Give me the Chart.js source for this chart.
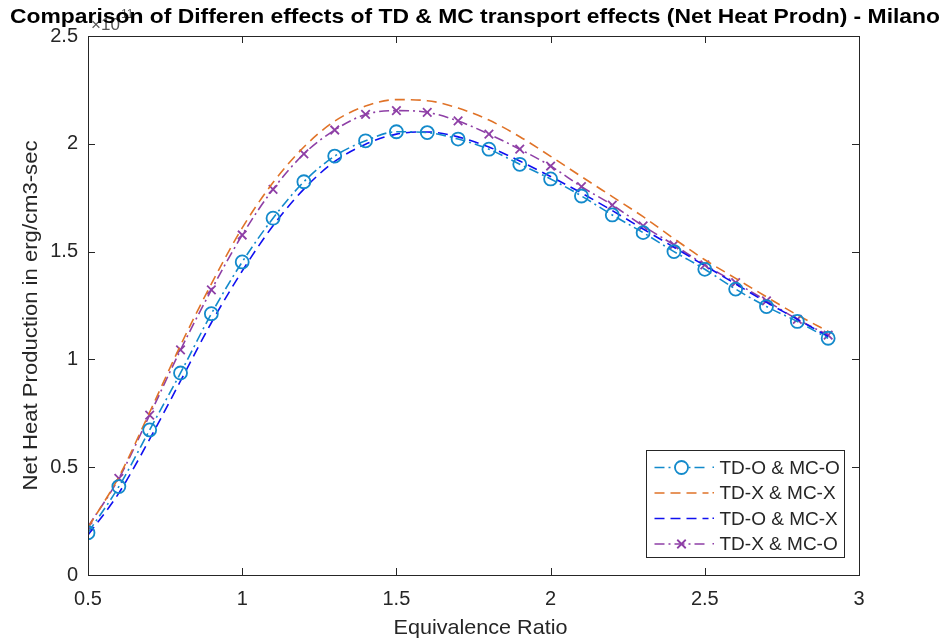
<!DOCTYPE html>
<html>
<head>
<meta charset="utf-8">
<script src="https://cdn.jsdelivr.net/npm/chart.js@4/dist/chart.umd.min.js"></script>
<style>
  html, body { margin: 0; padding: 0; background: #fff; }
  #wrap { width: 946px; height: 642px; }
</style>
</head>
<body>
<div id="wrap"><canvas id="heatChart" width="946" height="642"></canvas></div>
<script>
// equivalence ratio (x) and net heat production (units of 1e11 erg/cm3-sec)
const phi = [0.5, 0.6, 0.7, 0.8, 0.9, 1.0, 1.1, 1.2, 1.3, 1.4, 1.5, 1.6, 1.7,
             1.8, 1.9, 2.0, 2.1, 2.2, 2.3, 2.4, 2.5, 2.6, 2.7, 2.8, 2.9];

const tdO_mcO = [0.196, 0.41, 0.673, 0.937, 1.212, 1.452, 1.655, 1.824, 1.943, 2.014, 2.056, 2.052, 2.022,
                 1.975, 1.905, 1.837, 1.758, 1.67, 1.588, 1.5, 1.418, 1.326, 1.245, 1.176, 1.098];
const tdX_mcX = [0.22, 0.455, 0.755, 1.065, 1.35, 1.61, 1.82, 1.985, 2.105, 2.175, 2.205, 2.2, 2.166,
                 2.11, 2.033, 1.942, 1.848, 1.755, 1.662, 1.56, 1.462, 1.376, 1.29, 1.206, 1.13];
const tdO_mcX = [0.185, 0.38, 0.63, 0.9, 1.17, 1.41, 1.62, 1.79, 1.918, 1.998, 2.045, 2.055, 2.032,
                 1.985, 1.92, 1.848, 1.772, 1.69, 1.605, 1.52, 1.435, 1.35, 1.265, 1.186, 1.106];
const tdX_mcO = [0.224, 0.448, 0.742, 1.044, 1.322, 1.577, 1.789, 1.953, 2.064, 2.136, 2.154, 2.146, 2.106,
                 2.045, 1.975, 1.897, 1.801, 1.716, 1.619, 1.531, 1.438, 1.356, 1.272, 1.186, 1.113];

const seriesNames = ['TD-O & MC-O', 'TD-X & MC-X', 'TD-O & MC-X', 'TD-X & MC-O'];
const xTicks = [0.5, 1, 1.5, 2, 2.5, 3];
const yTicks = [0, 0.5, 1, 1.5, 2, 2.5];

const titleText = 'Comparison of Differen effects of TD & MC transport effects (Net Heat Prodn) - Milano';
const xLabel = 'Equivalence Ratio';
const yLabel = 'Net Heat Production in erg/cm3-sec';

const INK = '#262626';
const FONT = '"Liberation Sans", Arial, sans-serif';

const pts = (ys) => phi.map((x, i) => ({ x, y: ys[i] }));

const DASH = [10, 6];
const DASHDOT = [10, 4, 2, 4];

const datasets = [
  { label: seriesNames[0], data: pts(tdO_mcO), borderColor: '#138ACB', borderDash: DASHDOT,
    pointStyle: 'circle', pointRadius: 6.5, pointBorderWidth: 1.8, pointBackgroundColor: 'rgba(0,0,0,0)' },
  { label: seriesNames[1], data: pts(tdX_mcX), borderColor: '#E07328', borderDash: DASH, pointRadius: 0 },
  { label: seriesNames[2], data: pts(tdO_mcX), borderColor: '#1010F0', borderDash: DASH, pointRadius: 0 },
  { label: seriesNames[3], data: pts(tdX_mcO), borderColor: '#8E3FA6', borderDash: DASHDOT,
    pointStyle: 'crossRot', pointRadius: 6, pointBorderWidth: 1.8 }
].map(d => Object.assign({ borderWidth: 1.6, tension: 0.4, cubicInterpolationMode: 'monotone',
                           fill: false, pointHoverRadius: d.pointRadius || 0,
                           pointBorderColor: d.borderColor }, d));

// squeeze or stretch a string horizontally so it spans `w` pixels
function fitText(ctx, text, x, y, w) {
  const tw = ctx.measureText(text).width;
  ctx.save();
  ctx.translate(x, y);
  ctx.scale(w / tw, 1);
  ctx.fillText(text, 0, 0);
  ctx.restore();
}

// box, inward ticks, titles, exponent label and legend, MATLAB style
const matlabDecor = {
  id: 'matlabDecor',
  afterDraw(chart) {
    const { ctx, chartArea: a, scales } = chart;
    const xs = scales.x, ys = scales.y;
    ctx.save();

    ctx.strokeStyle = INK;
    ctx.lineWidth = 1;
    ctx.setLineDash([]);
    ctx.strokeRect(Math.round(a.left) + 0.5, Math.round(a.top) + 0.5,
                   Math.round(a.right - a.left), Math.round(a.bottom - a.top));

    const tl = 7;
    ctx.beginPath();
    xTicks.forEach(v => {
      const px = Math.round(xs.getPixelForValue(v)) + 0.5;
      ctx.moveTo(px, a.bottom); ctx.lineTo(px, a.bottom - tl);
      ctx.moveTo(px, a.top); ctx.lineTo(px, a.top + tl);
    });
    yTicks.forEach(v => {
      const py = Math.round(ys.getPixelForValue(v)) + 0.5;
      ctx.moveTo(a.left, py); ctx.lineTo(a.left + tl, py);
      ctx.moveTo(a.right, py); ctx.lineTo(a.right - tl, py);
    });
    ctx.stroke();

    ctx.fillStyle = '#555';

    // exponent label
    ctx.font = '17px ' + FONT;
    ctx.textAlign = 'left';
    ctx.textBaseline = 'alphabetic';
    ctx.fillText('\u00d710', a.left + 3, a.top - 6);
    ctx.font = '12px ' + FONT;
    ctx.fillText('11', a.left + 33, a.top - 18);

    // title
    ctx.fillStyle = '#000';
    ctx.font = 'bold 21px ' + FONT;
    ctx.textAlign = 'center';
    ctx.textBaseline = 'middle';
    const cx = (a.left + a.right) / 2;
    fitText(ctx, titleText, 475, 17, 930);

    // axis titles
    ctx.fillStyle = INK;
    ctx.font = '21px ' + FONT;
    fitText(ctx, xLabel, cx + 7, 628, 174);
    ctx.save();
    ctx.translate(31, (a.top + a.bottom) / 2 + 10);
    ctx.rotate(-Math.PI / 2);
    fitText(ctx, yLabel, 0, 0, 350);
    ctx.restore();

    // legend
    const lx = 646.5, ly = 450.5, lw = 198, lh = 107;
    ctx.fillStyle = '#fff';
    ctx.fillRect(lx, ly, lw, lh);
    ctx.strokeStyle = INK;
    ctx.strokeRect(lx, ly, lw, lh);
    const rowH = 25.5;
    chart.data.datasets.forEach((ds, i) => {
      const y = ly + 17 + i * rowH;
      ctx.strokeStyle = ds.borderColor;
      ctx.lineWidth = ds.borderWidth;
      ctx.setLineDash(ds.borderDash);
      ctx.beginPath();
      ctx.moveTo(lx + 8, y); ctx.lineTo(lx + 62, y);
      ctx.stroke();
      ctx.setLineDash([]);
      ctx.fillStyle = ds.borderColor;
      ctx.fillRect(lx + 66, y - 1, 1.5, 1.5);
      if (ds.pointRadius > 0) {
        ctx.lineWidth = ds.pointBorderWidth;
        ctx.fillStyle = '#fff';
        Chart.helpers.drawPoint(ctx, {
          pointStyle: ds.pointStyle, radius: ds.pointRadius, borderWidth: ds.pointBorderWidth
        }, lx + 35, y);
      }
      ctx.fillStyle = INK;
      ctx.font = '19px ' + FONT;
      ctx.textAlign = 'left';
      ctx.textBaseline = 'middle';
      ctx.fillText(ds.label, lx + 73, y + 1);
    });

    ctx.restore();
  }
};

new Chart(document.getElementById('heatChart'), {
  type: 'line',
  data: { datasets },
  options: {
    responsive: false,
    animation: false,
    events: [],
    layout: { padding: { top: 36, right: 87, left: 0, bottom: 0 } },
    plugins: { legend: { display: false }, tooltip: { enabled: false }, title: { display: false } },
    scales: {
      x: {
        type: 'linear', min: 0.5, max: 3,
        afterFit: (s) => { s.height = 67; },
        afterBuildTicks: (s) => { s.ticks = xTicks.map(v => ({ value: v })); },
        grid: { display: false, drawTicks: false },
        border: { display: false },
        ticks: { color: INK, font: { family: FONT, size: 20 }, padding: 12,
                 maxRotation: 0, callback: (v) => String(v) }
      },
      y: {
        type: 'linear', min: 0, max: 2.5,
        afterFit: (s) => { s.width = 88; },
        afterBuildTicks: (s) => { s.ticks = yTicks.map(v => ({ value: v })); },
        grid: { display: false, drawTicks: false },
        border: { display: false },
        ticks: { color: INK, font: { family: FONT, size: 20 }, padding: 10,
                 callback: (v) => String(v) }
      }
    }
  },
  plugins: [matlabDecor]
});
</script>
</body>
</html>
